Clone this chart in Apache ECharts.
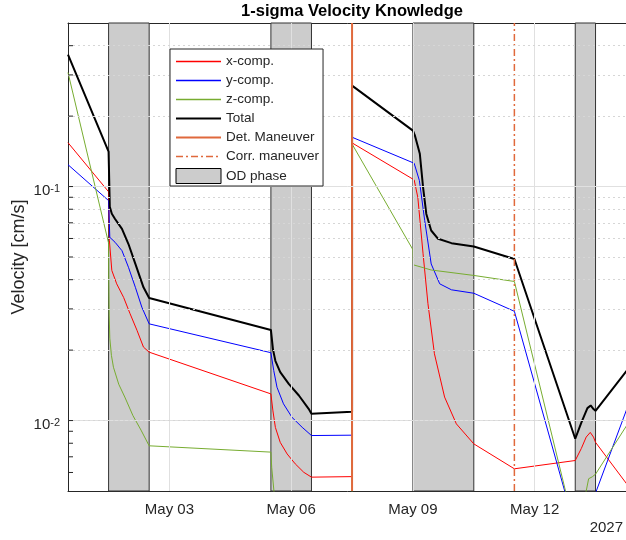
<!DOCTYPE html>
<html><head><meta charset="utf-8">
<script src="https://cdn.jsdelivr.net/npm/echarts@6/dist/echarts.min.js"></script>
<style>html,body{margin:0;padding:0;background:#fff}#c{width:626px;height:540px}</style>
</head><body><div id="c"></div>
<script>
const FONT = '"Liberation Sans", Arial, Helvetica, sans-serif';
const TITLE = '1-sigma Velocity Knowledge';
const Y_NAME = 'Velocity [cm/s]';
const YEAR_LABEL = '2027';
// x values: day of May 2027 (1.0 = May 01 00:00)
const X_MIN = 0.5, X_MAX = 14.3;
const Y_MIN = 0.005, Y_MAX = 0.5;
const X_TICKS = [3, 6, 9, 12];
const X_TICK_LABELS = ['May 03', 'May 06', 'May 09', 'May 12'];
const Y_MAJOR = [0.01, 0.1];
const Y_MINOR = [0.006, 0.007, 0.008, 0.009, 0.02, 0.03, 0.04, 0.05, 0.06, 0.07, 0.08, 0.09, 0.2, 0.3, 0.4];
const OD_START = [1.5, 5.5, 9.0, 13.0];
const OD_END = [2.5, 6.5, 10.5, 13.5];
const DET_MANEUVER = [7.5];
const CORR_MANEUVER = [11.5];

const xcDays = [0.5, 1.5, 1.52, 1.58, 1.70, 1.87, 2.03, 2.2, 2.36, 2.5, 5.5, 5.55, 5.61, 5.73, 5.9, 6.1, 6.31, 6.5, 7.5, 7.5, 9.03, 9.12, 9.25, 9.37, 9.53, 9.78, 10.07, 10.5, 11.5, 13.0, 13.15, 13.27, 13.37, 13.45, 13.5, 14.3];
const xcVals = [0.154, 0.095, 0.0587, 0.0438, 0.0384, 0.0336, 0.0286, 0.0243, 0.0206, 0.0196, 0.0130, 0.0110, 0.00935, 0.00807, 0.0072, 0.00653, 0.00601, 0.00573, 0.00576, 0.1537, 0.1068, 0.090, 0.0516, 0.0316, 0.0193, 0.0126, 0.00968, 0.00795, 0.00622, 0.00675, 0.0076, 0.0085, 0.0089, 0.0085, 0.00807, 0.00527];

const ycDays = [0.5, 1.5, 1.53, 1.66, 1.83, 1.99, 2.16, 2.32, 2.5, 5.5, 5.57, 5.65, 5.81, 6.02, 6.27, 6.5, 7.5, 7.5, 9.03, 9.16, 9.29, 9.45, 9.66, 9.95, 10.5, 11.5, 12.74, 13.0, 13.25, 13.5, 14.3];
const ycVals = [0.124, 0.0871, 0.0607, 0.0578, 0.0532, 0.0452, 0.0371, 0.0305, 0.0259, 0.0195, 0.01636, 0.01388, 0.01179, 0.01032, 0.00936, 0.00863, 0.00866, 0.1625, 0.1258, 0.106, 0.0716, 0.0467, 0.0384, 0.0362, 0.035, 0.0293, 0.005, 0.0035, 0.003, 0.0049, 0.01156];

const zcDays = [0.5, 1.5, 1.505, 1.515, 1.53, 1.57, 1.62, 1.75, 1.9, 2.1, 2.3, 2.5, 5.5, 5.52, 5.58, 5.7, 7.5, 7.5, 9.0, 9.01, 9.45, 10.5, 11.5, 12.76, 13.0, 13.27, 13.33, 13.42, 13.5, 14.3];
const zcVals = [0.307, 0.0573, 0.040, 0.028, 0.0225, 0.019, 0.0169, 0.0143, 0.0126, 0.0105, 0.0091, 0.0078, 0.00733, 0.0063, 0.0049, 0.0035, 0.003, 0.152, 0.0537, 0.0463, 0.044, 0.0417, 0.0393, 0.005, 0.0034, 0.005, 0.00564, 0.00575, 0.0059, 0.00972];

const totDays = [0.5, 1.5, 1.53, 1.58, 1.66, 1.83, 1.99, 2.16, 2.36, 2.5, 5.5, 5.55, 5.61, 5.73, 5.94, 6.19, 6.43, 6.5, 7.5, 7.5, 9.0, 9.05, 9.17, 9.25, 9.33, 9.45, 9.62, 9.95, 10.5, 11.5, 13.0, 13.15, 13.3, 13.38, 13.45, 13.5, 14.3];
const totVals = [0.366, 0.141, 0.082, 0.0765, 0.0727, 0.0659, 0.0568, 0.0467, 0.0371, 0.0334, 0.0244, 0.0202, 0.018, 0.0161, 0.01434, 0.0128, 0.01122, 0.0107, 0.0109, 0.270, 0.1734, 0.165, 0.138, 0.0993, 0.0764, 0.0649, 0.0598, 0.0573, 0.0554, 0.049, 0.00836, 0.0098, 0.0113, 0.0116, 0.0112, 0.0110, 0.0166];

const zip = (a, b) => a.map((v, i) => [v, b[i]]);
const AX = '#262626';
const MAN = '#e0693c';
const C_X = '#ff0000', C_Y = '#0000ff', C_Z = '#77ac30', C_T = '#000000';

const chart = echarts.init(document.getElementById('c'), null, {renderer: 'canvas'});

function supLabel(v) {
  const e = Math.round(Math.log10(v));
  if (Math.abs(Math.log10(v) - e) > 1e-6) return '';
  if (!Y_MAJOR.some(m => Math.abs(m - v) / m < 1e-6)) return '';
  return '{b|10}{s|' + e + '}';
}

const gridLines = []
  .concat(X_TICKS.map(v => ({xAxis: v, lineStyle: {color: '#e0e0e0', width: 1, type: 'solid'}})))
  .concat(Y_MAJOR.map(v => ({yAxis: v, lineStyle: {color: '#e0e0e0', width: 1, type: 'solid'}})))
  .concat(Y_MINOR.map(v => ({yAxis: v, lineStyle: {color: '#d6d6d6', width: 1, type: [2, 3]}})));

const legItem = (name, color, width, type) => ({
  name,
  itemStyle: {color: 'rgba(0,0,0,0)', borderWidth: 0, opacity: 0},
  lineStyle: {color, width, type: type || 'solid', opacity: 1}
});

const option = {
  animation: false,
  backgroundColor: '#fff',
  textStyle: {fontFamily: FONT},
  grid: {left: 68, right: -2, top: 23, bottom: 49, outerBoundsMode: 'none', containLabel: false},
  xAxis: [{
    type: 'value', min: X_MIN, max: X_MAX, position: 'bottom',
    axisLine: {show: true, lineStyle: {color: AX, width: 1}},
    axisTick: {show: true, inside: true, length: 5, customValues: X_TICKS, lineStyle: {color: AX}},
    axisLabel: {show: true, customValues: X_TICKS, margin: 11, color: AX, fontSize: 15, fontFamily: FONT,
      formatter: v => { const i = X_TICKS.findIndex(t => Math.abs(t - v) < 1e-6); return i >= 0 ? X_TICK_LABELS[i] : ''; }},
    splitLine: {show: false}
  }, {
    type: 'value', min: X_MIN, max: X_MAX, position: 'top',
    axisLine: {show: true, lineStyle: {color: AX, width: 1}},
    axisTick: {show: true, inside: true, length: 5, customValues: X_TICKS, lineStyle: {color: AX}},
    axisLabel: {show: false},
    splitLine: {show: false}
  }],
  yAxis: {
    type: 'log', logBase: 10, min: Y_MIN, max: Y_MAX,
    name: Y_NAME, nameLocation: 'middle', nameGap: 40, nameRotate: 90, nameMoveOverlap: false,
    nameTextStyle: {fontSize: 18, color: AX, fontFamily: FONT},
    axisLine: {show: true, lineStyle: {color: AX, width: 1}},
    axisTick: {show: false},
    splitLine: {show: false},
    minorTick: {show: false}, minorSplitLine: {show: false},
    axisLabel: {
      show: true, margin: 8, color: AX, fontFamily: FONT, showMinLabel: false, showMaxLabel: false,
      padding: [9, 0, 0, 0],
      formatter: supLabel,
      rich: {
        b: {fontSize: 15, lineHeight: 15, verticalAlign: 'bottom', color: AX, fontFamily: FONT},
        s: {fontSize: 11, lineHeight: 11, verticalAlign: 'top', padding: [0, 0, 6, 0], color: AX, fontFamily: FONT}
      }
    }
  },
  legend: {
    orient: 'vertical', left: 170, top: 49,
    backgroundColor: '#fff', borderColor: AX, borderWidth: 1, borderRadius: 0,
    padding: [5, 4, 2, 5],
    itemWidth: 45, itemHeight: 15, itemGap: 4, selectedMode: false,
    textStyle: {fontSize: 13.5, lineHeight: 15, color: AX, fontFamily: FONT},
    data: [
      legItem('x-comp.', C_X, 1.3),
      legItem('y-comp.', C_Y, 1.3),
      legItem('z-comp.', C_Z, 1.3),
      legItem('Total', C_T, 2),
      legItem('Det. Maneuver', MAN, 2),
      legItem('Corr. maneuver', MAN, 1.5, [7, 3, 2, 3]),
      {name: 'OD phase', icon: 'rect', itemStyle: {color: '#cccccc', borderColor: '#000', borderWidth: 1, opacity: 1}}
    ],
    z: 20
  },
  graphic: [
    {type: 'text', x: 352, y: 11, z: 100, style: {text: TITLE, align: 'center', verticalAlign: 'middle', font: 'bold 16.5px ' + FONT, fill: '#000'}},
    {type: 'text', x: 623, y: 528, z: 100, style: {text: YEAR_LABEL, align: 'right', verticalAlign: 'middle', font: '15px ' + FONT, fill: AX}}
  ],
  series: [
    {
      name: 'grid', type: 'line', data: [], z: 0, silent: true,
      markLine: {silent: true, symbol: ['none', 'none'], label: {show: false}, animation: false, data: gridLines}
    },
    {
      name: 'OD phase', type: 'custom', z: 1, silent: true,
      itemStyle: {color: '#cccccc', borderColor: '#000', borderWidth: 1},
      data: zip(OD_START, OD_END),
      encode: {x: [0, 1]},
      renderItem: (params, api) => {
        const p1 = api.coord([api.value(0), Y_MAX]);
        const p2 = api.coord([api.value(1), Y_MIN]);
        return {type: 'rect', shape: {x: p1[0], y: p1[1], width: p2[0] - p1[0], height: p2[1] - p1[1]},
          style: {fill: '#cccccc', stroke: '#333', lineWidth: 1}};
      }
    },
    {
      name: 'yticks', type: 'custom', z: 5, silent: true,
      data: Y_MAJOR.concat(Y_MINOR).map(v => [X_MIN, v]),
      renderItem: (params, api) => {
        const p = api.coord([X_MIN, api.value(1)]);
        return {type: 'line', shape: {x1: p[0], y1: p[1], x2: p[0] + 5, y2: p[1]}, style: {stroke: AX, lineWidth: 1}};
      }
    },
    {name: 'x-comp.', type: 'line', data: zip(xcDays, xcVals), symbol: 'none', z: 2, lineStyle: {color: C_X, width: 1}, itemStyle: {color: C_X}},
    {name: 'y-comp.', type: 'line', data: zip(ycDays, ycVals), symbol: 'none', z: 2, lineStyle: {color: C_Y, width: 1}, itemStyle: {color: C_Y}},
    {name: 'z-comp.', type: 'line', data: zip(zcDays, zcVals), symbol: 'none', z: 2, lineStyle: {color: C_Z, width: 1}, itemStyle: {color: C_Z}},
    {name: 'Total', type: 'line', data: zip(totDays, totVals), symbol: 'none', z: 3, lineStyle: {color: C_T, width: 2}, itemStyle: {color: C_T}},
    {name: 'Det. Maneuver', type: 'line', data: DET_MANEUVER.flatMap(d => [[d, Y_MIN], [d, Y_MAX]]), symbol: 'none', z: 4,
      lineStyle: {color: MAN, width: 2}, itemStyle: {color: MAN}},
    {name: 'Corr. maneuver', type: 'line', data: CORR_MANEUVER.flatMap(d => [[d, Y_MIN], [d, Y_MAX]]), symbol: 'none', z: 4,
      lineStyle: {color: MAN, width: 1.5, type: [7, 3, 2, 3]}, itemStyle: {color: MAN}}
  ]
};
chart.setOption(option);
</script></body></html>
